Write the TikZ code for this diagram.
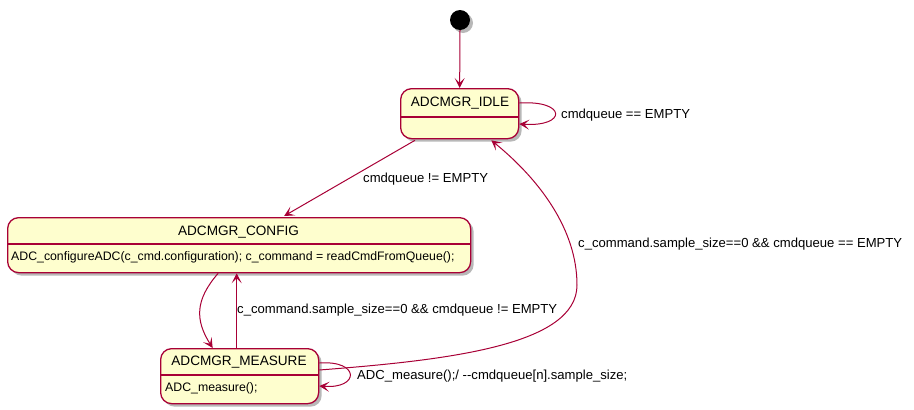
\documentclass[tikz,border=0pt]{standalone}
\usepackage{fontspec}
\setmainfont{Liberation Sans}
\usetikzlibrary{arrows.meta,shadows,calc}
\definecolor{umlred}{HTML}{A80036}
\definecolor{umlfill}{HTML}{FEFECE}
\tikzset{
  umlshadow/.style={drop shadow={shadow xshift=3pt,shadow yshift=-3pt,fill=black,opacity=.28}},
  statebox/.style={draw=umlred,fill=umlfill,rounded corners=11pt,line width=1.3pt,inner sep=0pt,anchor=north west,umlshadow},
  statetitle/.style={font=\fontsize{13.6}{16}\selectfont,inner sep=0pt},
  statebody/.style={font=\fontsize{12.3}{14}\selectfont,inner sep=0pt,anchor=west},
  edgelabel/.style={font=\fontsize{13.1}{15}\selectfont,inner sep=0pt,anchor=west},
  conn/.style={draw=umlred,line width=1pt,-{Stealth[length=10pt,width=10pt,inset=5pt]}},
  startdot/.style={circle,fill=black,minimum size=20pt,inner sep=0pt,umlshadow},
}
\begin{document}
\begin{tikzpicture}[x=1pt,y=-1pt]
\useasboundingbox (0,0) rectangle (914,410);
% nodes
\node[startdot] (start) at (460,20) {};
\node[statebox,minimum width=118pt,minimum height=50pt] (idle) at (400,88) {};
\node[statebox,minimum width=463pt,minimum height=55pt] (config) at (7,217) {};
\node[statebox,minimum width=158pt,minimum height=55pt] (measure) at (160,348) {};
% separators
\draw[umlred,line width=1.3pt] ($(idle.north west)+(0,29)$) -- ($(idle.north east)+(0,29)$);
\draw[umlred,line width=1.3pt] ($(config.north west)+(0,27)$) -- ($(config.north east)+(0,27)$);
\draw[umlred,line width=1.3pt] ($(measure.north west)+(0,27)$) -- ($(measure.north east)+(0,27)$);
% texts
\node[statetitle] (idlet) at (460,103) {ADCMGR\_IDLE};
\node[statetitle] (configt) at (238.5,232) {ADCMGR\_CONFIG};
\node[statebody] (configb) at (11,257.5) {ADC\_configureADC(c\_cmd.configuration); c\_command = readCmdFromQueue();};
\node[statetitle] (measuret) at (239,362) {ADCMGR\_MEASURE};
\node[statebody] (measureb) at (165,388) {ADC\_measure();};
% edges
\draw[conn] (start.south) -- (idle.north);
\draw[conn] ($(idle.north east)+(0,15)$) .. controls (567,100) and (567,127) .. ($(idle.north east)+(0,36)$);
\node[edgelabel] (l1) at (561,115) {cmdqueue == EMPTY};
\draw[conn] ($(idle.south west)+(15,1)$) -- ($(config.north)+(45,-1)$);
\node[edgelabel] (l2) at (363,179) {cmdqueue != EMPTY};
\draw[conn] ($(config.south)+(-21,0)$) .. controls (195,300) and (195,320) .. ($(measure.north)+(-27,0)$);
\draw[conn] ($(measure.north)+(-3,0)$) -- ($(config.south)+(-2.5,0)$);
\node[edgelabel] (l3) at (237,310) {c\_command.sample\_size==0 \&\& cmdqueue != EMPTY};
\draw[conn] ($(measure.north east)+(0,15)$) .. controls (360,360) and (360,389) .. ($(measure.north east)+(0,38)$);
\node[edgelabel] (l4) at (357,376) {ADC\_measure();/ -{}-cmdqueue[n].sample\_size;};
\coordinate (bend) at (577,285);
\draw[conn] ($(measure.north east)+(0,22)$) .. controls (450,360) and (577,345) .. (bend)
  .. controls (577,230) and (540,180) .. ($(idle.south east)+(-28,1)$);
\node[edgelabel] (l5) at (578,244) {c\_command.sample\_size==0 \&\& cmdqueue == EMPTY};
\end{tikzpicture}
\end{document}
